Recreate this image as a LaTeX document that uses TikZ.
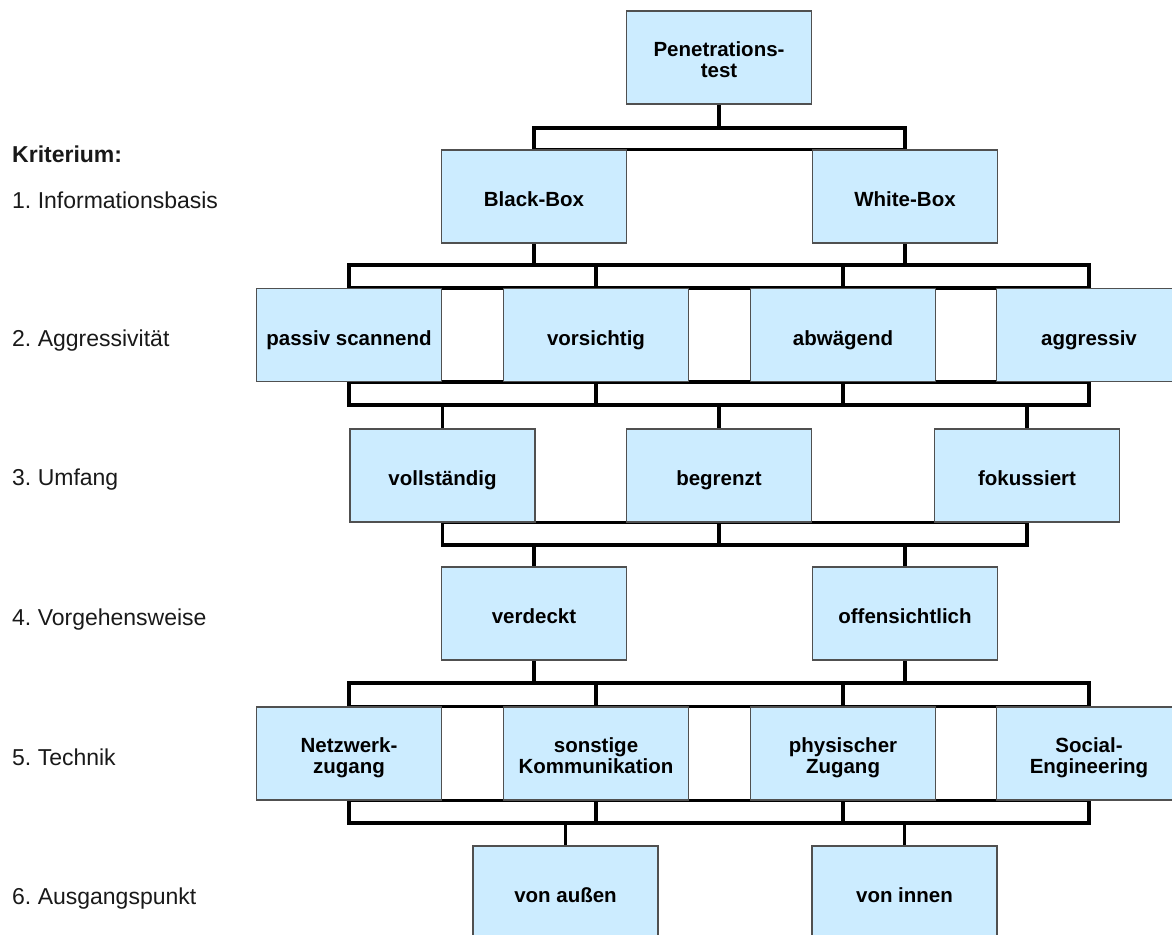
\documentclass[tikz,border=0pt]{standalone}
\usepackage{fontspec}
\setmainfont{Liberation Sans}
\usetikzlibrary{backgrounds}
\definecolor{boxblue}{RGB}{204,236,255}
\definecolor{boxline}{RGB}{80,80,80}
\frenchspacing
\begin{document}
\begin{tikzpicture}[x=1pt,y=-1pt,
  box/.style={draw=boxline,line width=1.2pt,fill=boxblue,minimum width=185pt,minimum height=93pt,inner sep=0pt,align=center,font=\bfseries\fontsize{20.5}{21}\selectfont,text height=24.5pt,text depth=4.5pt},
  boxtwo/.style={box,text height=45pt,text depth=4.5pt},
  crit/.style={anchor=base west,inner sep=0pt,font=\fontsize{23}{27}\selectfont,text=black!90},
  bus/.style={line width=3.5pt,line join=miter}]
  \useasboundingbox (0,0) rectangle (1172,934);
  \clip (0,0) rectangle (1172,934);
  \node[crit,font=\bfseries\fontsize{23}{27}\selectfont] (kr) at (12,162.7){Kriterium:};
  \node[crit] (c1) at (12,208){1. Informationsbasis};
  \node[crit] (c2) at (12,346.7){2. Aggressivität};
  \node[crit] (c3) at (12,485){3. Umfang};
  \node[crit] (c4) at (12,625){4. Vorgehensweise};
  \node[crit] (c5) at (12,765){5. Technik};
  \node[crit] (c6) at (12,904){6. Ausgangspunkt};
  \node[boxtwo] (pt) at (719,57.5){Penetrations-\\test};
  \node[box] (bb) at (534,196.5){Black-Box};
  \node[box] (wb) at (905,196.5){White-Box};
  \node[box] (ps) at (349,335){passiv scannend};
  \node[box] (vs) at (596,335){vorsichtig};
  \node[box] (ab) at (843,335){abwägend};
  \node[box] (ag) at (1089,335){aggressiv};
  \node[box] (vo) at (442.5,475.5){vollständig};
  \node[box] (be) at (719,475.5){begrenzt};
  \node[box] (fo) at (1027,475.5){fokussiert};
  \node[box] (ve) at (534,613.5){verdeckt};
  \node[box] (of) at (905,613.5){offensichtlich};
  \node[boxtwo] (nz) at (349,753.5){Netzwerk-\\zugang};
  \node[boxtwo] (sk) at (596,753.5){sonstige\\Kommunikation};
  \node[boxtwo] (pz) at (843,753.5){physischer\\Zugang};
  \node[boxtwo] (se) at (1089,753.5){Social-\\Engineering};
  \node[box] (va) at (565.5,892.5){von außen};
  \node[box] (vi) at (904.5,892.5){von innen};
  \coordinate (bus1) at (0,128);
  \coordinate (bus2) at (0,265);
  \coordinate (bus3) at (0,405);
  \coordinate (bus4) at (0,545);
  \coordinate (bus5) at (0,683);
  \coordinate (bus6) at (0,823);
  \begin{scope}[on background layer]
    \draw[bus] (pt.south) -- (pt |- bus1);
    \draw[bus] (bb.north) |- (bus1 -| wb) -- (wb.north);
    \draw[bus] (bb.north) -- (wb.north);
    \foreach \n in {bb,wb} \draw[bus] (\n.south) -- (\n |- bus2);
    \draw[bus] (ps.north) |- (bus2 -| ag) -- (ag.north);
    \draw[bus] (ps.north) -- (ag.north);
    \foreach \n in {vs,ab} \draw[bus] (\n.north) -- (\n |- bus2);
    \draw[bus] (ps.south) -- (ag.south);
    \draw[bus] (ps.south) |- (bus3 -| ag) -- (ag.south);
    \foreach \n in {vs,ab} \draw[bus] (\n.south) -- (\n |- bus3);
    \foreach \n in {vo,be,fo} \draw[bus] (\n.north) -- (\n |- bus3);
    \draw[bus] (vo.south) -- (fo.south);
    \draw[bus] (vo.south) |- (bus4 -| fo) -- (fo.south);
    \draw[bus] (be.south) -- (be |- bus4);
    \foreach \n in {ve,of} \draw[bus] (\n.north) -- (\n |- bus4);
    \foreach \n in {ve,of} \draw[bus] (\n.south) -- (\n |- bus5);
    \draw[bus] (nz.north) |- (bus5 -| se) -- (se.north);
    \draw[bus] (nz.north) -- (se.north);
    \foreach \n in {sk,pz} \draw[bus] (\n.north) -- (\n |- bus5);
    \draw[bus] (nz.south) -- (se.south);
    \draw[bus] (nz.south) |- (bus6 -| se) -- (se.south);
    \foreach \n in {sk,pz} \draw[bus] (\n.south) -- (\n |- bus6);
    \foreach \n in {va,vi} \draw[bus] (\n.north) -- (\n |- bus6);
  \end{scope}
\end{tikzpicture}
\end{document}
